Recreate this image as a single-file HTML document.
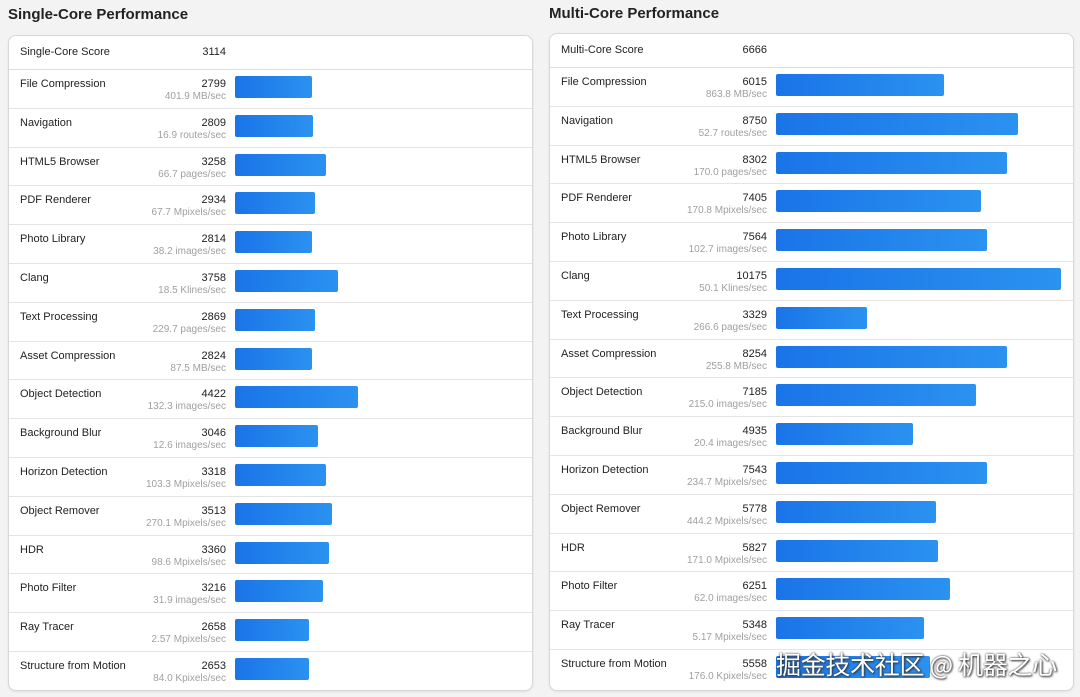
<!DOCTYPE html>
<html><head><meta charset="utf-8"><style>
*{margin:0;padding:0;box-sizing:border-box}
body{width:1080px;height:697px;background:#f3f3f3;font-family:"Liberation Sans",Arial,sans-serif;position:relative;overflow:hidden;color:#222}
h2{position:absolute;font-size:15px;font-weight:bold;color:#222}
.card{position:absolute;background:#fff;border:1px solid #d8d8d8;border-radius:8px;width:525px;box-shadow:0 1px 2px rgba(0,0,0,.08);overflow:hidden}
.hd{height:34px;border-bottom:1px solid #ddd;position:relative;font-size:11px}
.r{height:38.8px;border-bottom:1px solid #e4e4e4;position:relative;font-size:11px}
.r:last-child{border-bottom:none}
.n{position:absolute;left:11px;top:8px}
.hd .n{top:10px}
.s{position:absolute;right:306px;top:8px;text-align:right}
.hd .s{top:10px}
.u{position:absolute;right:306px;top:21px;color:#a0a0a0;font-size:10px;white-space:nowrap}
.b{position:absolute;left:226px;top:6px;height:22px;border-radius:2px;background:linear-gradient(90deg,#1a74e8,#2b92f0)}
.wm{position:absolute;left:776px;top:646px;font-family:"Noto Sans CJK SC",sans-serif;font-size:25px;color:#fff;text-shadow:0 0 2px #333,1px 1px 2px #333;letter-spacing:-0.3px}
</style></head><body>
<h2 style="left:8px;top:6px">Single-Core Performance</h2>
<h2 style="left:549px;top:5px">Multi-Core Performance</h2>
<div class="card" style="left:8px;top:35px;height:656px">
<div class="hd"><span class="n">Single-Core Score</span><span class="s">3114</span></div>
<div class="r"><span class="n">File Compression</span><span class="s">2799</span><span class="u">401.9 MB/sec</span><div class="b" style="width:77px"></div></div>
<div class="r"><span class="n">Navigation</span><span class="s">2809</span><span class="u">16.9 routes/sec</span><div class="b" style="width:78px"></div></div>
<div class="r"><span class="n">HTML5 Browser</span><span class="s">3258</span><span class="u">66.7 pages/sec</span><div class="b" style="width:91px"></div></div>
<div class="r"><span class="n">PDF Renderer</span><span class="s">2934</span><span class="u">67.7 Mpixels/sec</span><div class="b" style="width:80px"></div></div>
<div class="r"><span class="n">Photo Library</span><span class="s">2814</span><span class="u">38.2 images/sec</span><div class="b" style="width:77px"></div></div>
<div class="r"><span class="n">Clang</span><span class="s">3758</span><span class="u">18.5 Klines/sec</span><div class="b" style="width:103px"></div></div>
<div class="r"><span class="n">Text Processing</span><span class="s">2869</span><span class="u">229.7 pages/sec</span><div class="b" style="width:80px"></div></div>
<div class="r"><span class="n">Asset Compression</span><span class="s">2824</span><span class="u">87.5 MB/sec</span><div class="b" style="width:77px"></div></div>
<div class="r"><span class="n">Object Detection</span><span class="s">4422</span><span class="u">132.3 images/sec</span><div class="b" style="width:123px"></div></div>
<div class="r"><span class="n">Background Blur</span><span class="s">3046</span><span class="u">12.6 images/sec</span><div class="b" style="width:83px"></div></div>
<div class="r"><span class="n">Horizon Detection</span><span class="s">3318</span><span class="u">103.3 Mpixels/sec</span><div class="b" style="width:91px"></div></div>
<div class="r"><span class="n">Object Remover</span><span class="s">3513</span><span class="u">270.1 Mpixels/sec</span><div class="b" style="width:97px"></div></div>
<div class="r"><span class="n">HDR</span><span class="s">3360</span><span class="u">98.6 Mpixels/sec</span><div class="b" style="width:94px"></div></div>
<div class="r"><span class="n">Photo Filter</span><span class="s">3216</span><span class="u">31.9 images/sec</span><div class="b" style="width:88px"></div></div>
<div class="r"><span class="n">Ray Tracer</span><span class="s">2658</span><span class="u">2.57 Mpixels/sec</span><div class="b" style="width:74px"></div></div>
<div class="r"><span class="n">Structure from Motion</span><span class="s">2653</span><span class="u">84.0 Kpixels/sec</span><div class="b" style="width:74px"></div></div>
</div>
<div class="card" style="left:549px;top:33px;height:658px">
<div class="hd"><span class="n">Multi-Core Score</span><span class="s">6666</span></div>
<div class="r"><span class="n">File Compression</span><span class="s">6015</span><span class="u">863.8 MB/sec</span><div class="b" style="width:168px"></div></div>
<div class="r"><span class="n">Navigation</span><span class="s">8750</span><span class="u">52.7 routes/sec</span><div class="b" style="width:242px"></div></div>
<div class="r"><span class="n">HTML5 Browser</span><span class="s">8302</span><span class="u">170.0 pages/sec</span><div class="b" style="width:231px"></div></div>
<div class="r"><span class="n">PDF Renderer</span><span class="s">7405</span><span class="u">170.8 Mpixels/sec</span><div class="b" style="width:205px"></div></div>
<div class="r"><span class="n">Photo Library</span><span class="s">7564</span><span class="u">102.7 images/sec</span><div class="b" style="width:211px"></div></div>
<div class="r"><span class="n">Clang</span><span class="s">10175</span><span class="u">50.1 Klines/sec</span><div class="b" style="width:285px"></div></div>
<div class="r"><span class="n">Text Processing</span><span class="s">3329</span><span class="u">266.6 pages/sec</span><div class="b" style="width:91px"></div></div>
<div class="r"><span class="n">Asset Compression</span><span class="s">8254</span><span class="u">255.8 MB/sec</span><div class="b" style="width:231px"></div></div>
<div class="r"><span class="n">Object Detection</span><span class="s">7185</span><span class="u">215.0 images/sec</span><div class="b" style="width:200px"></div></div>
<div class="r"><span class="n">Background Blur</span><span class="s">4935</span><span class="u">20.4 images/sec</span><div class="b" style="width:137px"></div></div>
<div class="r"><span class="n">Horizon Detection</span><span class="s">7543</span><span class="u">234.7 Mpixels/sec</span><div class="b" style="width:211px"></div></div>
<div class="r"><span class="n">Object Remover</span><span class="s">5778</span><span class="u">444.2 Mpixels/sec</span><div class="b" style="width:160px"></div></div>
<div class="r"><span class="n">HDR</span><span class="s">5827</span><span class="u">171.0 Mpixels/sec</span><div class="b" style="width:162px"></div></div>
<div class="r"><span class="n">Photo Filter</span><span class="s">6251</span><span class="u">62.0 images/sec</span><div class="b" style="width:174px"></div></div>
<div class="r"><span class="n">Ray Tracer</span><span class="s">5348</span><span class="u">5.17 Mpixels/sec</span><div class="b" style="width:148px"></div></div>
<div class="r"><span class="n">Structure from Motion</span><span class="s">5558</span><span class="u">176.0 Kpixels/sec</span><div class="b" style="width:154px"></div></div>
</div>
<div class="wm">掘金技术社区 @ 机器之心</div>
</body></html>
